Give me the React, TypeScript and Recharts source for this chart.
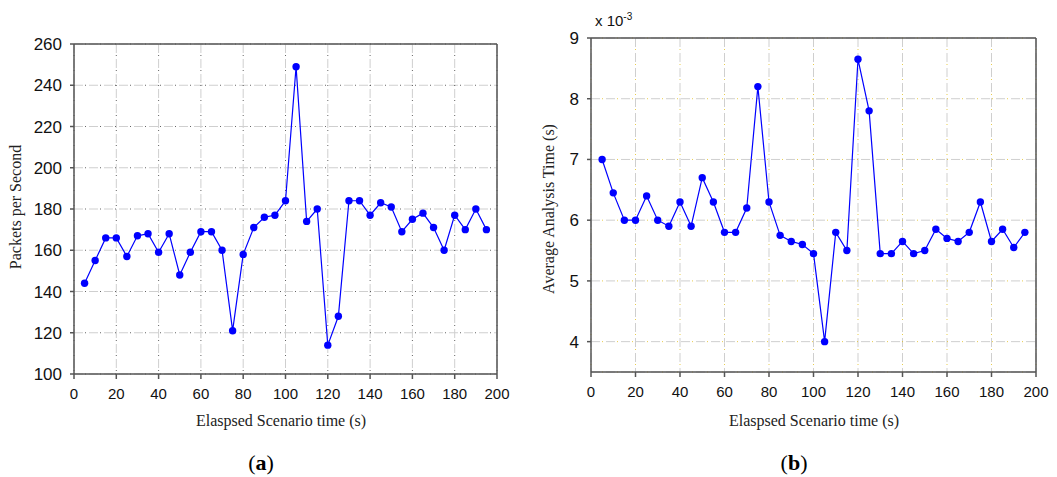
import React from 'react';
import { LineChart, Line, XAxis, YAxis, CartesianGrid, ReferenceLine } from 'recharts';

// elapsed scenario time (s), one sample every 5 s
const elapsedTime = [
  5, 10, 15, 20, 25, 30, 35, 40, 45, 50, 55, 60, 65, 70, 75, 80, 85, 90, 95, 100,
  105, 110, 115, 120, 125, 130, 135, 140, 145, 150, 155, 160, 165, 170, 175, 180, 185, 190, 195,
];

// (a) packets per second
const packetsPerSecond = [
  144, 155, 166, 166, 157, 167, 168, 159, 168, 148, 159, 169, 169, 160, 121, 158, 171, 176, 177, 184,
  249, 174, 180, 114, 128, 184, 184, 177, 183, 181, 169, 175, 178, 171, 160, 177, 170, 180, 170,
];

// (b) average analysis time, in units of 1e-3 s
const avgAnalysisTime = [
  7.0, 6.45, 6.0, 6.0, 6.4, 6.0, 5.9, 6.3, 5.9, 6.7, 6.3, 5.8, 5.8, 6.2, 8.2, 6.3, 5.75, 5.65, 5.6, 5.45,
  4.0, 5.8, 5.5, 8.65, 7.8, 5.45, 5.45, 5.65, 5.45, 5.5, 5.85, 5.7, 5.65, 5.8, 6.3, 5.65, 5.85, 5.55, 5.8,
];

const xTicks = [0, 20, 40, 60, 80, 100, 120, 140, 160, 180, 200];
const packetTicks = [100, 120, 140, 160, 180, 200, 220, 240, 260];
const timeTicks = [4, 5, 6, 7, 8, 9];

const packetData = elapsedTime.map((t, i) => ({ t, v: packetsPerSecond[i] }));
const timeData = elapsedTime.map((t, i) => ({ t, v: avgAnalysisTime[i] }));

const SANS = 'Arial, "Liberation Sans", sans-serif';
const SERIF = '"Times New Roman", "Liberation Serif", serif';
const AXIS = '#555';

const abs = (left: number, top: number, extra: React.CSSProperties = {}): React.CSSProperties => ({
  position: 'absolute',
  left,
  top,
  ...extra,
});

interface PanelProps {
  data: Array<{ t: number; v: number }>;
  yDomain: [number, number];
  yTicks: number[];
  dotColor: string;
  margin: { top: number; right: number; left: number; bottom: number };
  width: number;
  yWidth: number;
}

const Panel: React.FC<PanelProps> = ({ data, yDomain, yTicks, dotColor, margin, width, yWidth }) => (
  <LineChart width={width} height={410} data={data} margin={margin}>
    <CartesianGrid stroke="#cfcfcf" strokeDasharray="9 6" strokeWidth={1} />
    <CartesianGrid
      stroke={dotColor}
      strokeDasharray="1 14"
      strokeDashoffset={-11}
      strokeWidth={1}
      strokeOpacity={0.7}
    />
    <XAxis
      type="number"
      dataKey="t"
      domain={[0, 200]}
      ticks={xTicks}
      interval={0}
      height={30}
      stroke={AXIS}
      strokeWidth={1.5}
      tickSize={5}
      tickMargin={9}
      tick={{ fill: '#111', fontSize: 15, fontFamily: SANS }}
    />
    <YAxis
      type="number"
      domain={yDomain}
      ticks={yTicks}
      interval={0}
      width={yWidth}
      stroke={AXIS}
      strokeWidth={1.5}
      tickSize={4}
      tickMargin={8}
      tick={{ fill: '#111', fontSize: 17, fontFamily: SANS }}
    />
    <ReferenceLine y={yDomain[1]} stroke={AXIS} strokeWidth={1.5} />
    <ReferenceLine x={200} stroke={AXIS} strokeWidth={1.5} />
    <Line
      type="linear"
      dataKey="v"
      stroke="#0000ff"
      strokeWidth={1.2}
      dot={{ r: 3.7, fill: '#0000ff', stroke: '#0000ff', strokeWidth: 0 }}
      isAnimationActive={false}
    />
  </LineChart>
);

export default function App() {
  return (
    <div style={abs(0, 0, { width: 1057, height: 477, background: '#fff', overflow: 'hidden' })}>
      {/* (a) packets per second */}
      <div style={abs(0, 0)}>
        <Panel
          data={packetData}
          yDomain={[100, 260]}
          yTicks={packetTicks}
          dotColor="#222"
          width={520}
          yWidth={60}
          margin={{ top: 44, right: 23, left: 14, bottom: 6 }}
        />
      </div>
      <div
        style={abs(16, 207, {
          transform: 'translate(-50%, -50%) rotate(-90deg)',
          fontFamily: SERIF,
          fontSize: 16,
          whiteSpace: 'nowrap',
          color: '#222',
        })}
      >
        Packets per Second
      </div>
      <div
        style={abs(281, 421, {
          transform: 'translate(-50%, -50%)',
          fontFamily: SERIF,
          fontSize: 16,
          whiteSpace: 'nowrap',
          color: '#222',
        })}
      >
        Elaspsed Scenario time (s)
      </div>
      <div
        style={abs(261, 463, {
          transform: 'translate(-50%, -50%)',
          fontFamily: SERIF,
          fontSize: 22,
          whiteSpace: 'nowrap',
        })}
      >
        (<b>a</b>)
      </div>

      {/* (b) average analysis time */}
      <div style={abs(530, 0)}>
        <Panel
          data={timeData}
          yDomain={[3.5, 9]}
          yTicks={timeTicks}
          dotColor="#e0b800"
          width={527}
          yWidth={50}
          margin={{ top: 38, right: 21, left: 11, bottom: 8 }}
        />
      </div>
      <div style={abs(595, 11, { fontFamily: SANS, fontSize: 15, whiteSpace: 'nowrap', color: '#111' })}>
        x 10<sup style={{ fontSize: 10 }}>-3</sup>
      </div>
      <div
        style={abs(549, 209, {
          transform: 'translate(-50%, -50%) rotate(-90deg)',
          fontFamily: SERIF,
          fontSize: 16,
          whiteSpace: 'nowrap',
          color: '#222',
        })}
      >
        Average Analysis Time (s)
      </div>
      <div
        style={abs(814, 421, {
          transform: 'translate(-50%, -50%)',
          fontFamily: SERIF,
          fontSize: 16,
          whiteSpace: 'nowrap',
          color: '#222',
        })}
      >
        Elaspsed Scenario time (s)
      </div>
      <div
        style={abs(794, 463, {
          transform: 'translate(-50%, -50%)',
          fontFamily: SERIF,
          fontSize: 22,
          whiteSpace: 'nowrap',
        })}
      >
        (<b>b</b>)
      </div>
    </div>
  );
}
